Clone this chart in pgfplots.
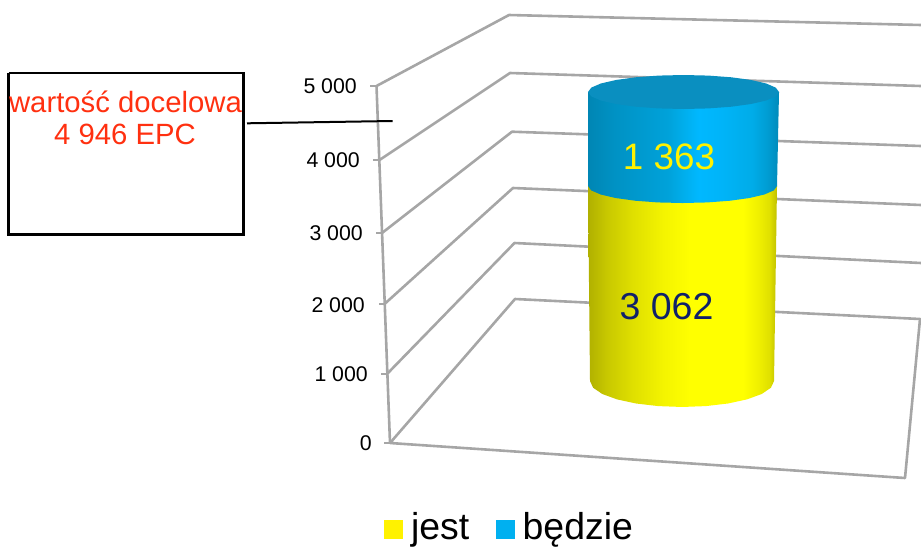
\documentclass[border=0pt]{standalone}
\usepackage{fontspec}
\setmainfont{Liberation Sans}
\usepackage{pgfplots}
\pgfplotsset{compat=1.18}
\definecolor{gridg}{HTML}{A6A6A6}
\definecolor{y0}{HTML}{B0B000}\definecolor{y1}{HTML}{C8C800}\definecolor{y2}{HTML}{E0E000}\definecolor{y25}{HTML}{F4F400}
\definecolor{y3}{HTML}{FFFF00}\definecolor{y4}{HTML}{F0F000}\definecolor{y45}{HTML}{E0E000}\definecolor{y5}{HTML}{C0C000}
\definecolor{b0}{HTML}{0086B4}\definecolor{b1}{HTML}{0092C4}\definecolor{b2}{HTML}{00A2DA}\definecolor{b25}{HTML}{00AEEC}
\definecolor{b3}{HTML}{00B8FF}\definecolor{b35}{HTML}{00B4F8}\definecolor{b4}{HTML}{00ACE8}\definecolor{b45}{HTML}{009CD2}\definecolor{b5}{HTML}{008ABA}
\definecolor{btop}{HTML}{0A8FC0}
\definecolor{legb}{HTML}{00B0F0}
\definecolor{redt}{HTML}{FF3010}
\definecolor{navy}{HTML}{10206A}
\pgfdeclarehorizontalshading{ycyl}{100bp}{color(0bp)=(y0);color(25bp)=(y0);color(30bp)=(y1);color(37bp)=(y2);color(45bp)=(y25);color(52bp)=(y3);color(66bp)=(y3);color(70bp)=(y4);color(73bp)=(y45);color(75bp)=(y5);color(100bp)=(y5)}
\pgfdeclarehorizontalshading{bcyl}{100bp}{color(0bp)=(b0);color(25bp)=(b0);color(32bp)=(b1);color(46bp)=(b2);color(50bp)=(b25);color(54bp)=(b3);color(60bp)=(b35);color(68bp)=(b4);color(72bp)=(b45);color(75bp)=(b5);color(100bp)=(b5)}
\newcommand{\fs}[1]{\fontsize{#1}{#1}\selectfont}
\begin{document}
\begin{tikzpicture}[x=1pt,y=1pt]
\useasboundingbox (0,0) rectangle (921,547);
% frame in pixel coordinates
\begin{axis}[at={(0,0)},anchor=south west,width=921pt,height=547pt,scale only axis,
  xmin=0,xmax=921,ymin=0,ymax=547,y dir=reverse,axis lines=none,ticks=none,
  legend columns=2,
  legend style={at={(axis cs:384,527)},anchor=west,draw=none,fill=none,inner sep=0pt,outer sep=0pt,
    font=\fs{37.4},nodes={inner sep=0pt},column sep=0pt,row sep=0pt},
  legend image code/.code={\fill[#1] (0pt,-11.5pt) rectangle (19pt,7.5pt);},
  /tikz/every even column/.append style={column sep=26.5pt},
  /tikz/every odd column/.append style={column sep=8pt},
  gl/.style={draw=gridg,line width=2.6pt,forget plot,line join=round}]
\addplot[gl] coordinates {(376.5,86)(509,15)(921,25)};
\addplot[gl] coordinates {(379.5,160)(510,73)(921,86)};
\addplot[gl] coordinates {(382,233)(512,131.7)(921,146)};
\addplot[gl] coordinates {(384.5,304)(513,188)(921,205)};
\addplot[gl] coordinates {(387,374)(514.5,243)(921,263)};
\addplot[gl] coordinates {(390,443)(515,299)(920,319)(905,478)(390,443)};
\addplot[gl] coordinates {(376.5,86)(390,443)};
\addplot[gl] coordinates {(370,86)(376.5,86)};
\addplot[gl] coordinates {(373,160)(379.5,160)};
\addplot[gl] coordinates {(376,233)(382,233)};
\addplot[gl] coordinates {(379,304)(384.5,304)};
\addplot[gl] coordinates {(381,374)(387,374)};
\addplot[gl] coordinates {(384,443)(390,443)};
\node[anchor=east,inner sep=0pt,font=\fs{21.3}] at (axis cs:357,86) {5 000};
\node[anchor=east,inner sep=0pt,font=\fs{21.3}] at (axis cs:360,160) {4 000};
\node[anchor=east,inner sep=0pt,font=\fs{21.3}] at (axis cs:363,233) {3 000};
\node[anchor=east,inner sep=0pt,font=\fs{21.3}] at (axis cs:365,305) {2 000};
\node[anchor=east,inner sep=0pt,font=\fs{21.3}] at (axis cs:368,374) {1 000};
\node[anchor=east,inner sep=0pt,font=\fs{21.3}] at (axis cs:372,443) {0};
% callout
\addplot[black,line width=2.2pt,forget plot] coordinates {(8.5,73.3)(243.5,73.3)(243.5,234.5)(8.5,234.5)(8.5,73.3)};
\addplot[black,line width=2pt,forget plot] coordinates {(247,123.3)(392.7,121)};
\node[text=redt,inner sep=0pt,font=\fs{29.3}] at (axis cs:125.5,102) {wartość docelowa};
\node[text=redt,inner sep=0pt,font=\fs{29.3}] at (axis cs:125,134) {4 946 EPC};
\addlegendimage{fill=yellow,draw=none}\addlegendentry{jest}
\addlegendimage{fill=legb,draw=none}\addlegendentry{będzie}
\end{axis}
% cylinder: y is EPC, the upper piece has the steeper perspective scale
\begin{axis}[at={(0,0)},anchor=south west,width=921pt,height=547pt,scale only axis,
  xmin=0,xmax=921,ymin=-2607,ymax=5759,axis lines=none,ticks=none,
  y coord trafo/.code={\pgfmathparse{ifthenelse(#1<=3062,#1*0.06368,195+(#1-3062)*0.06897)}}]
% jest = 3062
\addplot[draw=none,shading=ycyl] coordinates {(588,3062)(590,0)(593.1,-105.7)(602.3,-204)(617,-288.5)(636,-353.3)(658.2,-394)(682,-408)(705.8,-394)(728,-353.3)(747,-288.5)(761.7,-204)(770.9,-105.7)(774,0)(777,3062)} -- cycle;
% bedzie = 1363, stacked to 4425
\addplot[draw=none,shading=bcyl] coordinates {(588,4425)(779,4425)(777,3062)(773.8,2992.9)(764.3,2928.5)(749.3,2873.2)(729.75,2830.8)(707,2804.1)(682.5,2795)(658,2804.1)(635.25,2830.8)(615.7,2873.2)(600.7,2928.5)(591.2,2992.9)(588,3062)} -- cycle;
\addplot[draw=none,fill=btop] coordinates {(779,4425)(775.7,4488.8)(766.2,4548.25)(751,4599.3)(731.25,4638.5)(708.2,4663.1)(683.5,4671.5)(658.8,4663.1)(635.75,4638.5)(616,4599.3)(600.8,4548.25)(591.3,4488.8)(588,4425)(591.3,4361.2)(600.8,4301.75)(616,4250.7)(635.75,4211.5)(658.8,4186.9)(683.5,4178.5)(708.2,4186.9)(731.25,4211.5)(751,4250.7)(766.2,4301.75)(775.7,4361.2)} -- cycle;
\node[text=yellow,inner sep=0pt,font=\fs{36.8}] at (axis cs:669,3482) {1 363};
\node[text=navy,inner sep=0pt,font=\fs{37.5}] at (axis cs:666.5,1162) {3 062};
\end{axis}
\end{tikzpicture}
\end{document}
